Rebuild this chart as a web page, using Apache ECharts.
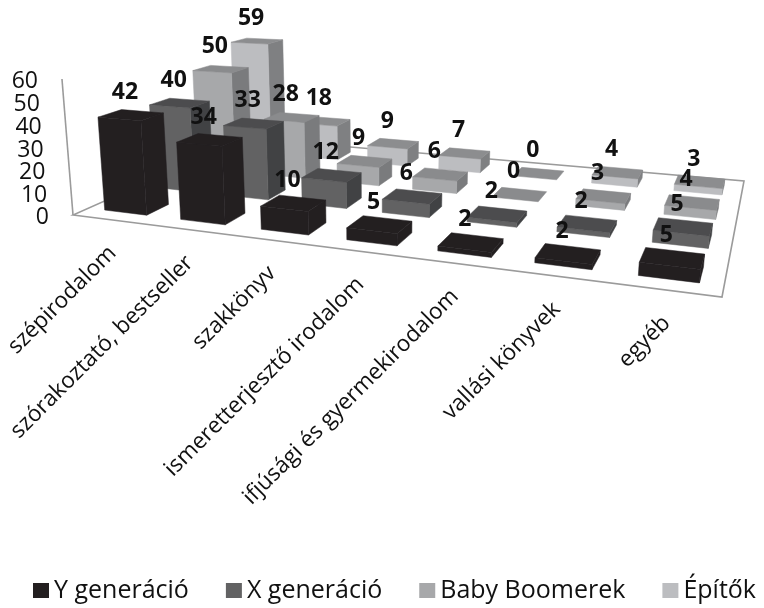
<!DOCTYPE html>
<html><head><meta charset="utf-8">
<style>html,body{margin:0;padding:0;background:#fff}#c{width:764px;height:608px}</style>
<script src="https://cdn.jsdelivr.net/npm/echarts@6/dist/echarts.min.js"></script>
</head><body><div id="c"></div>
<script>
const categories = ["szépirodalom","szórakoztató, bestseller","szakkönyv","ismeretterjesztő irodalom","ifjúsági és gyermekirodalom","vallási könyvek","egyéb"];
const seriesNames = ["Y generáció","X generáció","Baby Boomerek","Építők"];
const yGen = [42,34,10,5,2,2,5];
const xGen = [40,33,12,6,2,2,5];
const babyBoomers = [50,28,9,6,0,3,4];
const builders = [59,18,9,7,0,4,3];
const valueTicks = [0,10,20,30,40,50,60];
const frontColors = ["#231f20","#626263","#a7a8aa","#bcbdc0"];
const sideColors  = ["#231f20","#414244","#7a7b7d","#7f8082"];
const topColors   = ["#231f20","#4c4c4e","#8a8b8d","#8c8d8f"];
const FONT = '"Open Sans"';

// floor corners on screen (category direction s, series direction t)
const P00=[73,215],P10=[722,297],P11=[744,181],P01=[246,138];
const dx1=P10[0]-P11[0],dx2=P01[0]-P11[0],sx=P00[0]-P10[0]+P11[0]-P01[0];
const dy1=P10[1]-P11[1],dy2=P01[1]-P11[1],sy=P00[1]-P10[1]+P11[1]-P01[1];
const den=dx1*dy2-dx2*dy1;
const g=(sx*dy2-dx2*sy)/den,h=(dx1*sy-sx*dy1)/den;
const a=P10[0]-P00[0]+g*P10[0],b=P01[0]-P00[0]+h*P01[0],c=P00[0];
const d=P10[1]-P00[1]+g*P10[1],e=P01[1]-P00[1]+h*P01[1],f=P00[1];
const C=-0.000578,A=380*C,B=4000*C;
function proj(s,t,w){const W=g*s+h*t+1+C*w;return [(a*s+b*t+c+A*w)/W,(d*s+e*t+f+B*w)/W];}
// slight correction of the category spacing for marks on the floor
function barS(s){return s+0.024*s*(1-s);}

// hidden cartesian grid supplies the scales; its pixels are re-projected onto the floor
const GRID={left:0,top:0,width:700,height:600};
function toModel(pt){return {w:(GRID.top+GRID.height-pt[1])/GRID.height*60};}
const GU=0.22,GV=0.28;
const LABEL_DX=-6,LABEL_DY=-22.5;

function poly(points,fill){return {type:'polygon',shape:{points},style:{fill,stroke:fill,lineWidth:0.5}};}
function barRender(row){
  return function(params,api){
    const i=api.value(0),v=api.value(1);
    const m=toModel(api.coord([i,v]));
    const n=categories.length;
    const s0=barS((i+GU)/n),s1=barS((i+1-GU)/n),t0=(row+GV)/4,t1=(row+1-GV)/4,w=m.w;
    const b00=proj(s0,t0,0),b10=proj(s1,t0,0),b11=proj(s1,t1,0);
    const a00=proj(s0,t0,w),a10=proj(s1,t0,w),a11=proj(s1,t1,w),a01=proj(s0,t1,w);
    const children=[];
    if(v>0){
      children.push(poly([b10,b11,a11,a10],sideColors[row]));
      children.push(poly([b00,b10,a10,a00],frontColors[row]));
    }
    children.push(poly([a00,a10,a11,a01],topColors[row]));
    return {type:'group',children};
  };
}
function labelRender(row){
  return function(params,api){
    const i=api.value(0),v=api.value(1);
    const m=toModel(api.coord([i,v]));
    const n=categories.length;
    const p=proj(barS((i+.5)/n),(row+.5)/4,m.w);
    return {type:'text',x:p[0]+LABEL_DX,y:p[1]+LABEL_DY,style:{text:String(v),fill:'#111',font:'bold 23px '+FONT,align:'center',verticalAlign:'middle'}};
  };
}
const rows=[yGen,xGen,babyBoomers,builders];
const series=[];
series.push({type:'custom',silent:true,z:1,coordinateSystem:'cartesian2d',data:[[0,0]],renderItem:function(p,api){
  const st={stroke:'#9b9b9b',lineWidth:1.6,fill:null};
  const top=proj(0,0,60);
  return {type:'group',children:[
    {type:'polygon',shape:{points:[P00,P10,P11,P01]},style:st},
    {type:'line',shape:{x1:P00[0],y1:P00[1],x2:top[0],y2:top[1]},style:st}
  ]};
}});
series.push({type:'custom',silent:true,z:1,coordinateSystem:'cartesian2d',data:valueTicks.map(v=>[0,v]),renderItem:function(p,api){
  const m=toModel(api.coord([0,api.value(1)]));
  const q=proj(0,0,m.w);
  return {type:'text',x:q[0]-24,y:q[1]+2,style:{text:String(api.value(1)),fill:'#111',font:'23px '+FONT,align:'right',verticalAlign:'middle'}};
}});
series.push({type:'custom',silent:true,z:1,coordinateSystem:'cartesian2d',data:categories.map((c,i)=>[i,0]),renderItem:function(p,api){
  const i=api.value(0);
  const q=proj((i+.5)/categories.length,0,0);
  return {type:'text',x:q[0]+3,y:q[1]+30,rotation:Math.PI/4,style:{text:categories[i],fill:'#111',font:'22.5px '+FONT,align:'right',verticalAlign:'middle'}};
}});
rows.forEach((vals,row)=>{
  series.push({name:seriesNames[row],type:'custom',silent:true,z:10-row,coordinateSystem:'cartesian2d',itemStyle:{color:frontColors[row]},
    data:vals.map((v,i)=>[i,v]),renderItem:barRender(row)});
  series.push({type:'custom',silent:true,z:20,coordinateSystem:'cartesian2d',data:vals.map((v,i)=>[i,v]),renderItem:labelRender(row)});
});
const chart=echarts.init(document.getElementById('c'),null,{renderer:'canvas'});
chart.setOption({
  animation:false,backgroundColor:'#fff',
  grid:Object.assign({show:false},GRID),
  xAxis:{type:'category',data:categories,show:false,boundaryGap:false},
  yAxis:{type:'value',min:0,max:60,show:false},
  legend:{data:seriesNames,left:28,top:573,width:760,icon:'rect',itemWidth:16,itemHeight:15,itemGap:37,selectedMode:false,
    textStyle:{fontFamily:FONT,fontSize:25,color:'#111'}},
  series
});
</script></body></html>
